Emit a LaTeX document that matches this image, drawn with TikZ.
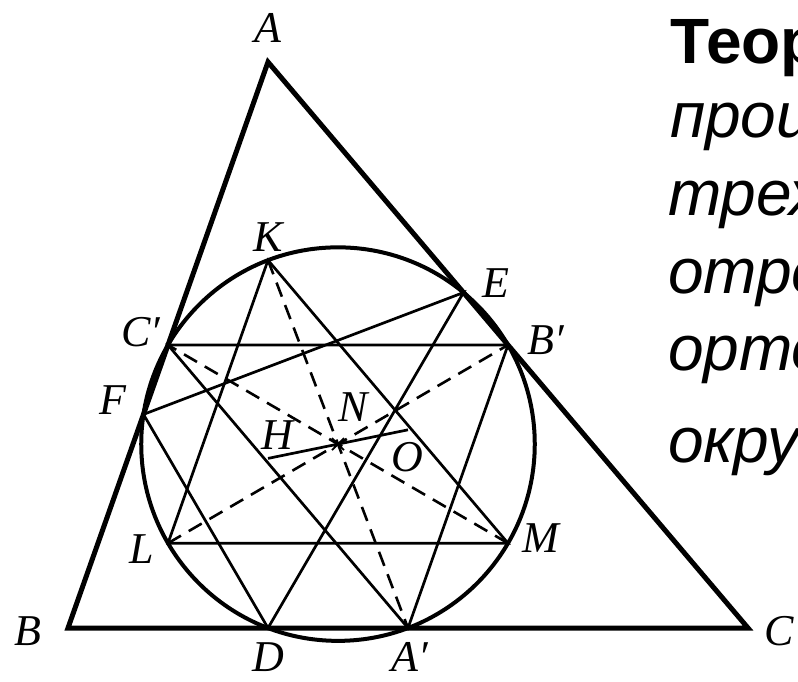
\documentclass[tikz,border=0pt]{standalone}
\usepackage{fontspec}
\setmainfont{Liberation Serif}
\newfontfamily\rusfont{Liberation Sans}
\usetikzlibrary{calc}
\begin{document}
\begin{tikzpicture}[x=1pt,y=-1pt,
  tri/.style={line width=5pt, line join=miter},
  circ/.style={line width=4pt},
  seg/.style={line width=2.7pt},
  dsh/.style={line width=2.6pt, dash pattern=on 15pt off 9pt},
  lbl/.style={font=\fontsize{44}{44}\selectfont\itshape, inner sep=0pt},
  lblb/.style={lbl, anchor=base, text depth=0pt},
  txt/.style={anchor=base west, inner sep=0pt}]
\useasboundingbox (0,0) rectangle (798,681);
% vertices
\coordinate (A) at (268,62);
\coordinate (B) at (68,628);
\coordinate (C) at (748,628);
% midpoints
\coordinate (A2) at ($(B)!0.5!(C)$);
\coordinate (B2) at ($(A)!0.5!(C)$);
\coordinate (C2) at ($(A)!0.5!(B)$);
% feet of altitudes
\coordinate (D) at ($(B)!(A)!(C)$);
\coordinate (E) at ($(A)!(B)!(C)$);
\coordinate (F) at ($(A)!(C)!(B)$);
% orthocentre, circumcentre, nine-point centre
\coordinate (H) at (268,458.39);
\coordinate (O) at (408,429.81);
\coordinate (N) at ($(H)!0.5!(O)$);
% Euler points
\coordinate (K) at ($(A)!0.5!(H)$);
\coordinate (L) at ($(B)!0.5!(H)$);
\coordinate (M) at ($(C)!0.5!(H)$);

% inner segments
\draw[seg] (A2) -- (B2) -- (C2) -- cycle;
\draw[seg] (K) -- (L) -- (M) -- cycle;
\draw[seg] (D) -- (E) -- (F) -- cycle;
\draw[seg] (H) -- (O);
\draw[dsh] (K) -- (A2);
\draw[dsh] (L) -- (B2);
\draw[dsh] (M) -- (C2);
\draw[line width=1.8pt] ($(N)+(-6,-6)$) -- ($(N)+(6,6)$) ($(N)+(-6,6)$) -- ($(N)+(6,-6)$);
% nine-point circle
\draw[circ] let \p1=($(A2)-(N)$), \n1={veclen(\x1,\y1)} in (N) circle[radius=\n1];
% triangle
\draw[tri] (A) -- (B) -- (C) -- cycle;

% labels
\node[lbl] (lA) at (268,28) {A};
\node[lbl] (lB) at (28,631) {B};
\node[lbl] (lC) at (779,631) {C};
\node[lblb] (lD) at (268,671) {D};
\node[lblb] (lA2) at (410,671) {A′};
\node[lbl] (lK) at (268,237) {K};
\node[lbl] (lE) at (496,283) {E};
\node[lbl] (lB2) at (546,340) {B′};
\node[lbl] (lC2) at (141,332) {C′};
\node[lbl] (lF) at (113,400) {F};
\node[lbl] (lH) at (277,435) {H};
\node[lbl] (lN) at (353,407) {N};
\node[lbl] (lO) at (407,457) {O};
\node[lbl] (lL) at (142,549) {L};
\node[lbl] (lM) at (541,538) {M};

% cut-off text on the right
\node[txt, font=\fontsize{64}{64}\selectfont\rusfont\bfseries] (t1) at (670,63) {Теор};
\node[txt, font=\fontsize{64}{64}\selectfont\rusfont\itshape] (t2) at (670,137) {прои};
\node[txt, font=\fontsize{64}{64}\selectfont\rusfont\itshape] (t3) at (668,215) {трех};
\node[txt, font=\fontsize{64}{64}\selectfont\rusfont\itshape] (t4) at (668,293) {отре};
\node[txt, font=\fontsize{64}{64}\selectfont\rusfont\itshape] (t5) at (668,370) {орто};
\node[txt, font=\fontsize{64}{64}\selectfont\rusfont\itshape] (t6) at (668,462) {окру};
\end{tikzpicture}
\end{document}
